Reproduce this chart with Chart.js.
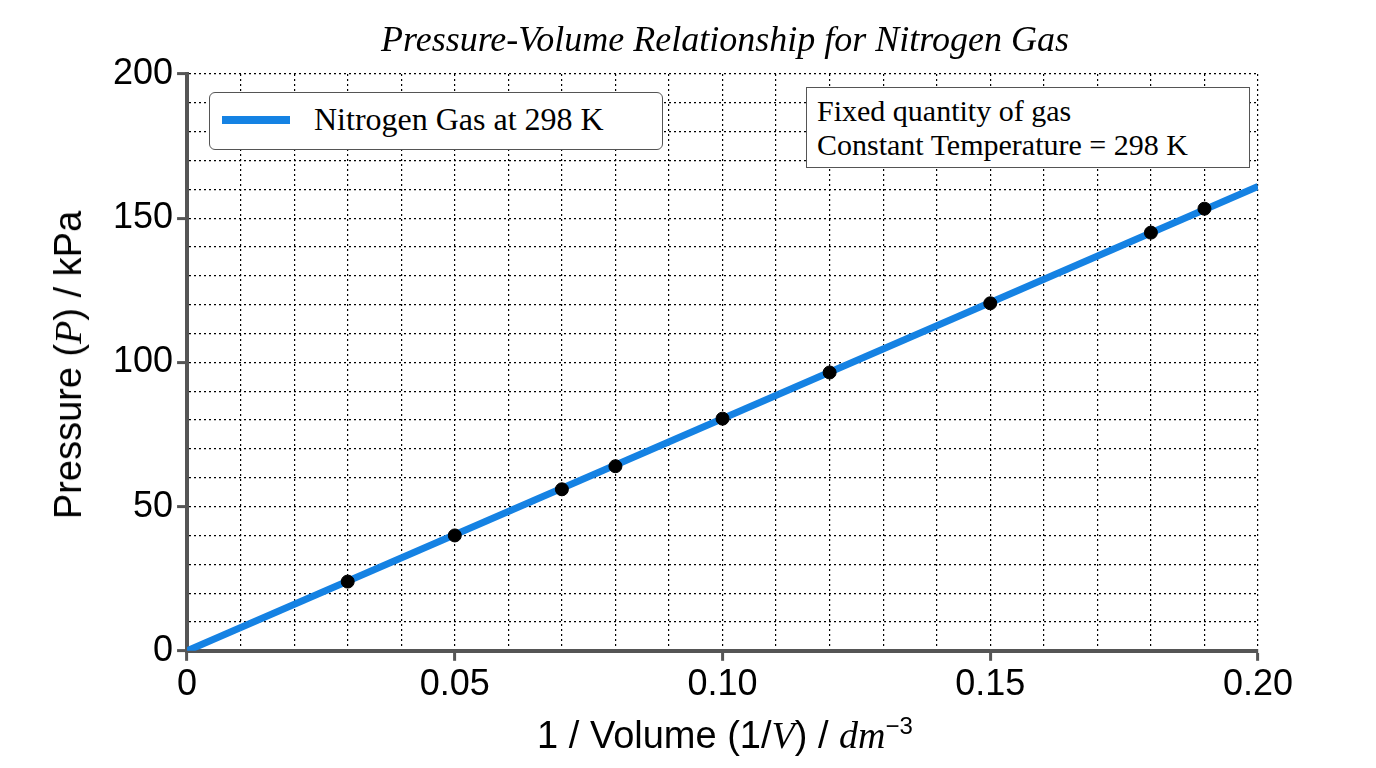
<!DOCTYPE html>
<html><head><meta charset="utf-8">
<script src="https://cdn.jsdelivr.net/npm/chart.js@4"></script>
<style>
body{margin:0;background:#fff;}
#wrap{position:relative;width:1376px;height:768px;}
.t{position:absolute;white-space:nowrap;}
.serif{font-family:"Liberation Serif","DejaVu Serif",serif;}
.sans{font-family:"Liberation Sans",Arial,sans-serif;}
</style></head><body>
<div id="wrap">
<canvas id="c" width="1376" height="768"></canvas>
<div class="t serif" style="left:0;width:1450px;top:18px;text-align:center;font-size:36px;font-style:italic;">Pressure-Volume Relationship for Nitrogen Gas</div>
<div class="t serif" style="left:209px;top:92px;width:452px;height:56px;border:1.5px solid #555;border-radius:6px;background:#fff;font-size:32px;">
  <span style="position:absolute;left:12px;top:23px;width:68px;height:8px;background:#1582e3;"></span>
  <span style="position:absolute;left:104px;top:8px;">Nitrogen Gas at 298 K</span></div>
<div class="t serif" style="left:806px;top:87px;width:442px;height:79px;border:1.5px solid #555;background:#fff;font-size:30px;line-height:34px;">
  <div style="position:absolute;left:10px;top:6px;">Fixed quantity of gas<br>Constant Temperature = 298 K</div></div>
<div class="t sans" style="left:0;width:1450px;top:712px;text-align:center;font-size:38px;">1 / Volume (1/<i class="serif">V</i>) / <i class="serif">dm</i><sup style="font-size:24px;">−3</sup></div>
<div class="t sans" style="left:68px;top:365px;transform:translate(-50%,-50%) rotate(-90deg);font-size:38px;">Pressure (<i class="serif">P</i>) / kPa</div>
</div>
<script>
const lineX = [0, 0.2];
const lineY = [0, 161];
const pointX = [0.03, 0.05, 0.07, 0.08, 0.10, 0.12, 0.15, 0.18, 0.19];
const pointY = [24, 40, 56, 64, 80.5, 96.5, 120.5, 145, 153.3];
const xTickLabels = ["0", "0.05", "0.10", "0.15", "0.20"];
const yTickLabels = ["0", "50", "100", "150", "200"];

const xi = v => Math.round(v * 100);
new Chart(document.getElementById("c"), {
  type: "scatter",
  data: {
    datasets: [
      { type: "line", data: lineX.map((x, i) => ({ x, y: lineY[i] })), borderColor: "#1582e3", borderWidth: 7, pointRadius: 0, order: 2 },
      { data: pointX.map((x, i) => ({ x, y: pointY[i] })), backgroundColor: "#000", borderColor: "#000", pointRadius: 6.5, order: 1 }
    ]
  },
  options: {
    responsive: false, animation: false,
    layout: { padding: { left: 109, right: 118, top: 74, bottom: 58 } },
    plugins: { legend: { display: false }, tooltip: { enabled: false } },
    scales: {
      x: {
        type: "linear", min: 0, max: 0.2,
        border: { color: "#555", width: 4, dash: [2, 3] },
        grid: { color: "#000", lineWidth: 1.2, tickLength: 10,
          tickColor: c => xi(c.tick.value) % 5 === 0 ? "#555" : "transparent", tickWidth: 3 },
        ticks: { stepSize: 0.01, autoSkip: false, maxRotation: 0, color: "#000",
          font: { family: "Liberation Sans", size: 36 },
          callback: v => xi(v) % 5 === 0 ? xTickLabels[xi(v) / 5] : "" }
      },
      y: {
        min: 0, max: 200,
        border: { color: "#555", width: 4, dash: [2, 3] },
        grid: { color: "#000", lineWidth: 1.2, tickLength: 10,
          tickColor: c => c.tick.value % 50 === 0 ? "#555" : "transparent", tickWidth: 3 },
        ticks: { stepSize: 10, autoSkip: false, color: "#000", padding: 4,
          font: { family: "Liberation Sans", size: 36 },
          callback: v => v % 50 === 0 ? yTickLabels[v / 50] : "" }
      }
    }
  }
});
</script>
</body></html>
